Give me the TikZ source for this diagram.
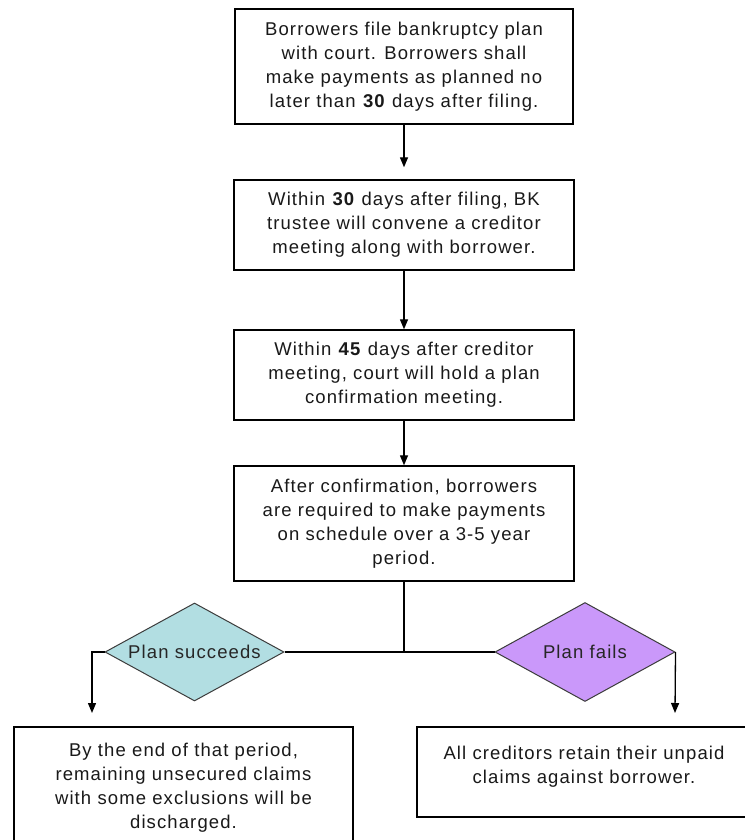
\documentclass[tikz,border=0pt]{standalone}
\usepackage{fontspec}
\setmainfont[LetterSpace=6]{Liberation Sans}
\usetikzlibrary{arrows.meta,shapes.geometric}
\definecolor{tealfill}{RGB}{178,222,226}
\definecolor{purplefill}{RGB}{202,152,250}
\definecolor{edgegray}{RGB}{60,60,60}
\begin{document}
\begin{tikzpicture}[x=1pt,y=-1pt,
  stepbox/.style={draw=black, line width=1.4pt, align=center, inner sep=0pt,
    font=\fontsize{18.5}{24}\selectfont, text=black!90},
  decision/.style={diamond, draw=edgegray, line width=1pt, inner sep=0pt,
    font=\fontsize{18.5}{24}\selectfont, text=black!85},
  conn/.style={line width=1.3pt, draw=black},
  arr/.style={conn, -{Triangle[width=8pt,length=10pt]}}]
\useasboundingbox[fill=white] (0,0) rectangle (744,840);

\node[stepbox, minimum width=338, minimum height=115] (b1) at (404,66.5)
  {Borrowers file bankruptcy plan\\with court. Borrowers shall\\make payments as planned no\\later than \textbf{30} days after filing.};
\node[stepbox, minimum width=340, minimum height=90] (b2) at (404,225)
  {Within \textbf{30} days after filing, BK\\trustee will convene a creditor\\meeting along with borrower.};
\node[stepbox, minimum width=340, minimum height=90] (b3) at (404,375)
  {Within \textbf{45} days after creditor\\meeting, court will hold a plan\\confirmation meeting.};
\node[stepbox, minimum width=340, minimum height=115] (b4) at (404,523.5)
  {After confirmation, borrowers\\are required to make payments\\on schedule over a 3-5 year\\period.};

\coordinate (j) at (404,652);
\node[decision, fill=tealfill, minimum width=179, minimum height=98] (dl) at (194.5,652)
  {\makebox[0pt]{Plan succeeds}};
\node[decision, fill=purplefill, minimum width=180, minimum height=99] (dr) at (585,652)
  {\makebox[0pt]{Plan fails}};

\coordinate (lt) at (92,713);
\coordinate (rt) at (675,713);

\node[stepbox, minimum width=339, minimum height=121] (ol) at (183.5,787.5)
  {By the end of that period,\\remaining unsecured claims\\with some exclusions will be\\discharged.};
\node[stepbox, minimum width=334, minimum height=90] (or) at (584,772)
  {All creditors retain their unpaid\\claims against borrower.\\[-10pt]};

\draw[arr, shorten >=12pt] (b1.south) -- (b2.north);
\draw[arr] (b2.south) -- (b3.north);
\draw[arr] (b3.south) -- (b4.north);
\draw[conn] (b4.south) -- (j);
\draw[conn] (dl.east) -- (dr.west);
\draw[arr] (dl.west) -| (lt);
\draw[arr] (dr.east) -- (rt);
\end{tikzpicture}
\end{document}
